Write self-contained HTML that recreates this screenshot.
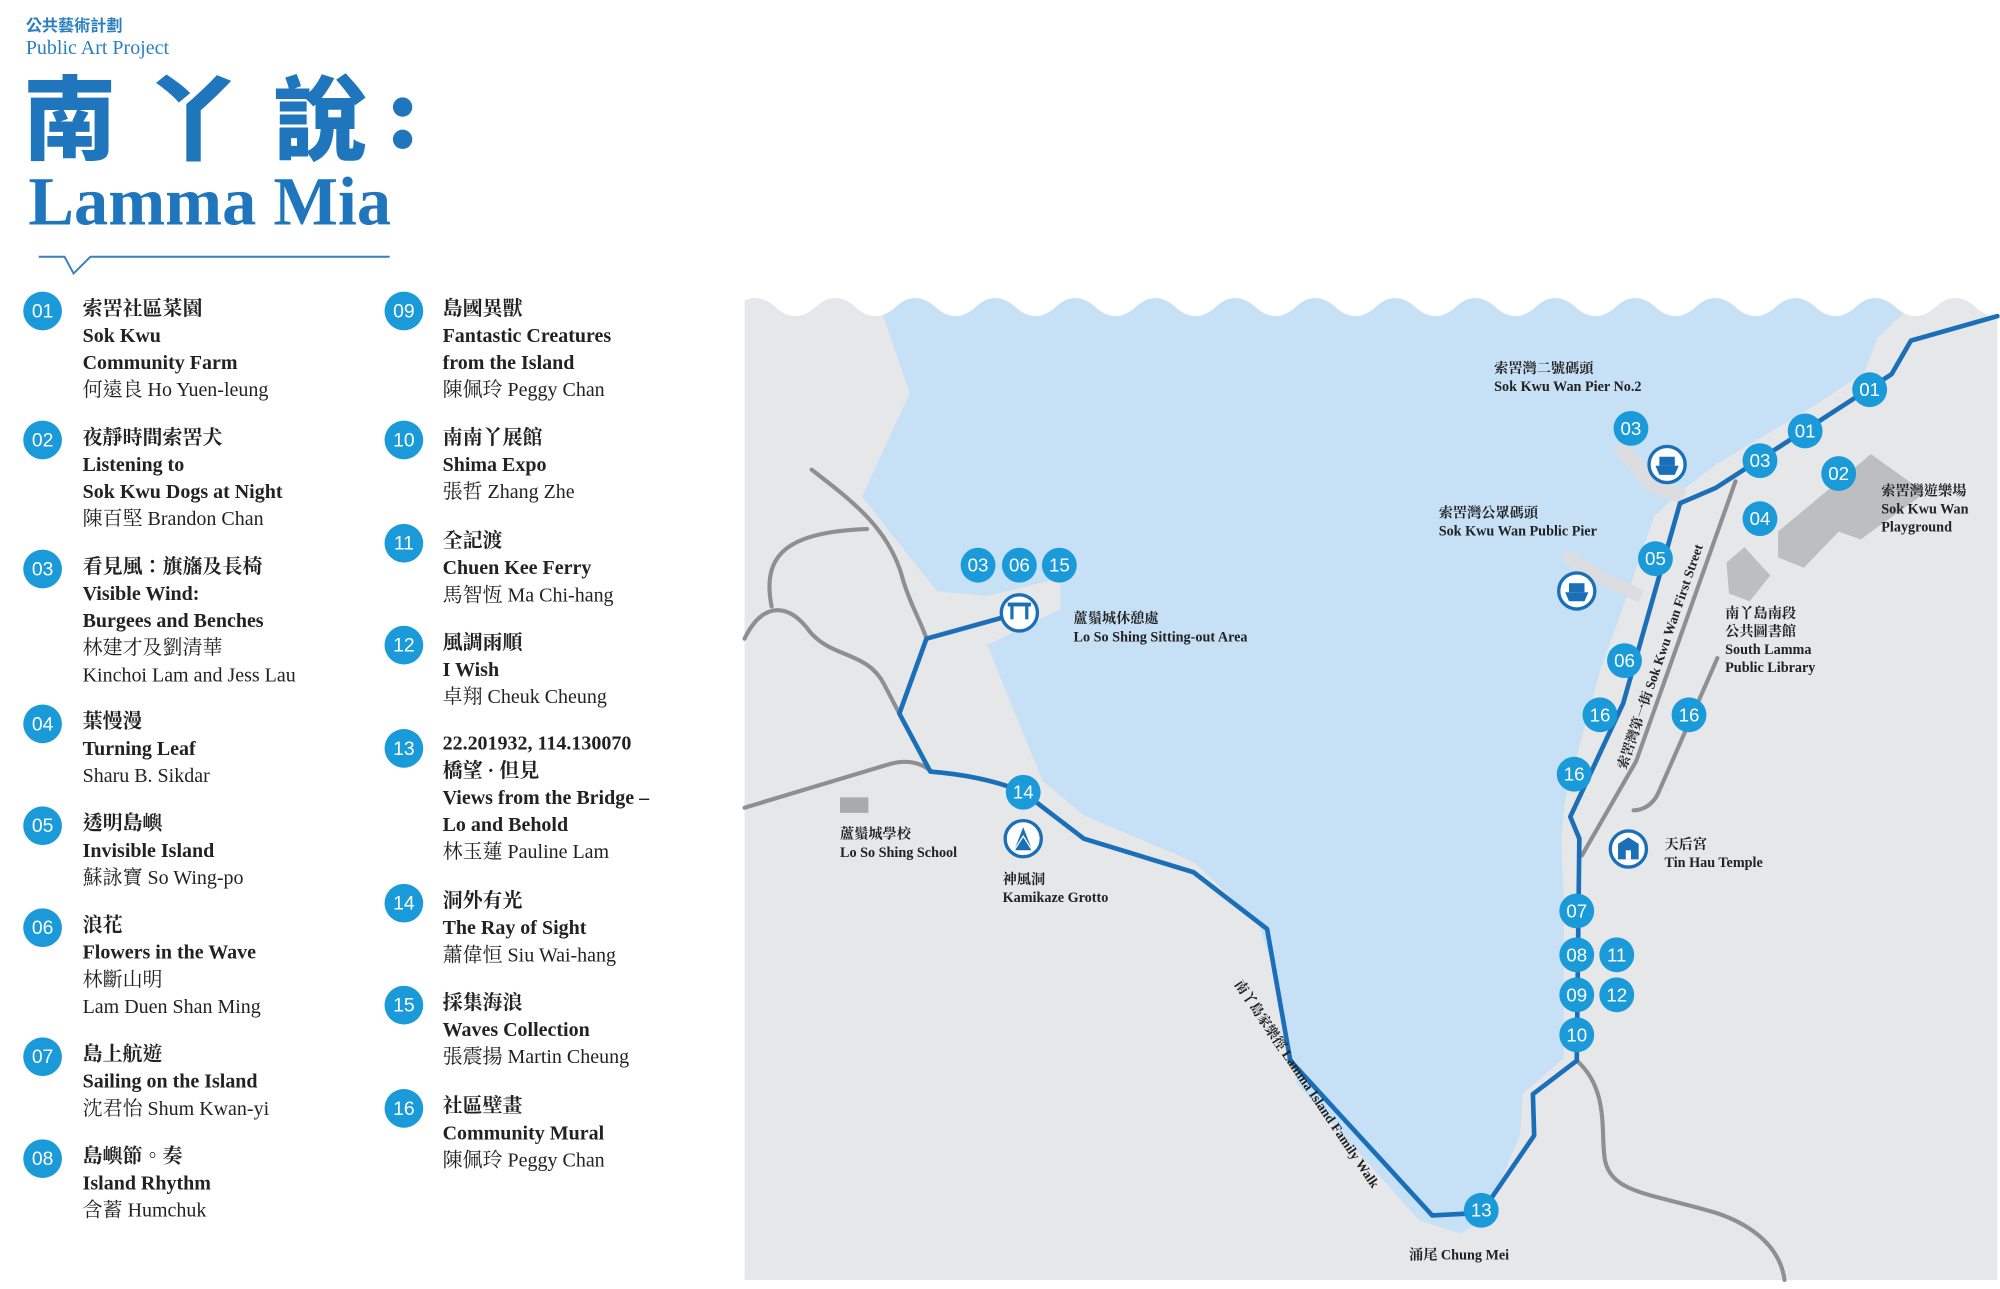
<!DOCTYPE html>
<html><head><meta charset="utf-8"><style>
html,body{margin:0;padding:0;background:#fff;width:2000px;height:1289px;overflow:hidden}
svg{display:block}
.t{font-family:"Liberation Serif","Noto Serif CJK TC","Noto Serif CJK SC",serif;font-size:15.5px;fill:#222}
.b{font-weight:bold}
.n{font-family:"Liberation Sans",sans-serif;font-size:14.5px;fill:#fff;text-anchor:middle}
.m{font-family:"Liberation Serif","Noto Serif CJK TC","Noto Serif CJK SC",serif;font-size:11px;font-weight:bold;fill:#222}
</style></head><body>
<svg width="2000" height="1289" viewBox="0 0 1550 999" xmlns="http://www.w3.org/2000/svg">
<!-- header -->
<text x="20" y="24" style="font-family:'Noto Sans CJK TC','Noto Sans CJK SC',sans-serif;font-size:12.5px;fill:#2a7fc1;font-weight:bold">公共藝術計劃</text>
<text x="20" y="42" style="font-family:'Liberation Serif',serif;font-size:15.5px;fill:#2a7fc1">Public Art Project</text>
<g style="font-family:'Noto Sans CJK TC','Noto Sans CJK SC',sans-serif;font-size:72px;font-weight:900;fill:#1f76bd">
<text x="18" y="118">南</text><text x="114" y="118">丫</text><text x="212" y="118">說</text>
</g>
<circle cx="312" cy="83" r="7.5" fill="#1f76bd"/><circle cx="312" cy="108" r="7.5" fill="#1f76bd"/>
<text x="22" y="174" style="font-family:'Liberation Serif',serif;font-size:53px;font-weight:bold;fill:#1f76bd">Lamma Mia</text>
<path d="M30,199 H50 L57,212 L70,199 H302" fill="none" stroke="#3a7fbf" stroke-width="1.5"/>

<!-- list -->
<g fill="#1a9ad9">
<circle cx="33" cy="241" r="15"/><circle cx="33" cy="341" r="15"/><circle cx="33" cy="441" r="15"/><circle cx="33" cy="561" r="15"/>
<circle cx="33" cy="640" r="15"/><circle cx="33" cy="719" r="15"/><circle cx="33" cy="819" r="15"/><circle cx="33" cy="898" r="15"/>
<circle cx="313" cy="241" r="15"/><circle cx="313" cy="341" r="15"/><circle cx="313" cy="421" r="15"/><circle cx="313" cy="500" r="15"/>
<circle cx="313" cy="580" r="15"/><circle cx="313" cy="700" r="15"/><circle cx="313" cy="779" r="15"/><circle cx="313" cy="859" r="15"/>
</g>
<g class="n" style="font-size:15px">
<text x="33" y="246">01</text><text x="33" y="346">02</text><text x="33" y="446">03</text><text x="33" y="566">04</text>
<text x="33" y="645">05</text><text x="33" y="724">06</text><text x="33" y="824">07</text><text x="33" y="903">08</text>
<text x="313" y="246">09</text><text x="313" y="346">10</text><text x="313" y="426">11</text><text x="313" y="505">12</text>
<text x="313" y="585">13</text><text x="313" y="705">14</text><text x="313" y="784">15</text><text x="313" y="864">16</text>
</g>
<g class="t">
<text x="64" y="244"><tspan class="b">索罟社區菜園</tspan><tspan x="64" dy="21" class="b">Sok Kwu</tspan><tspan x="64" dy="21" class="b">Community Farm</tspan><tspan x="64" dy="21">何遠良 Ho Yuen-leung</tspan></text>
<text x="64" y="344"><tspan class="b">夜靜時間索罟犬</tspan><tspan x="64" dy="21" class="b">Listening to</tspan><tspan x="64" dy="21" class="b">Sok Kwu Dogs at Night</tspan><tspan x="64" dy="21">陳百堅 Brandon Chan</tspan></text>
<text x="64" y="444"><tspan class="b">看見風：旗旛及長椅</tspan><tspan x="64" dy="21" class="b">Visible Wind:</tspan><tspan x="64" dy="21" class="b">Burgees and Benches</tspan><tspan x="64" dy="21">林建才及劉清華</tspan><tspan x="64" dy="21">Kinchoi Lam and Jess Lau</tspan></text>
<text x="64" y="564"><tspan class="b">葉慢漫</tspan><tspan x="64" dy="21" class="b">Turning Leaf</tspan><tspan x="64" dy="21">Sharu B. Sikdar</tspan></text>
<text x="64" y="643"><tspan class="b">透明島嶼</tspan><tspan x="64" dy="21" class="b">Invisible Island</tspan><tspan x="64" dy="21">蘇詠寶 So Wing-po</tspan></text>
<text x="64" y="722"><tspan class="b">浪花</tspan><tspan x="64" dy="21" class="b">Flowers in the Wave</tspan><tspan x="64" dy="21">林斷山明</tspan><tspan x="64" dy="21">Lam Duen Shan Ming</tspan></text>
<text x="64" y="822"><tspan class="b">島上航遊</tspan><tspan x="64" dy="21" class="b">Sailing on the Island</tspan><tspan x="64" dy="21">沈君怡 Shum Kwan-yi</tspan></text>
<text x="64" y="901"><tspan class="b">島嶼節。奏</tspan><tspan x="64" dy="21" class="b">Island Rhythm</tspan><tspan x="64" dy="21">含蓄 Humchuk</tspan></text>

<text x="343" y="244"><tspan class="b">島國異獸</tspan><tspan x="343" dy="21" class="b">Fantastic Creatures</tspan><tspan x="343" dy="21" class="b">from the Island</tspan><tspan x="343" dy="21">陳佩玲 Peggy Chan</tspan></text>
<text x="343" y="344"><tspan class="b">南南丫展館</tspan><tspan x="343" dy="21" class="b">Shima Expo</tspan><tspan x="343" dy="21">張哲 Zhang Zhe</tspan></text>
<text x="343" y="424"><tspan class="b">全記渡</tspan><tspan x="343" dy="21" class="b">Chuen Kee Ferry</tspan><tspan x="343" dy="21">馬智恆 Ma Chi-hang</tspan></text>
<text x="343" y="503"><tspan class="b">風調雨順</tspan><tspan x="343" dy="21" class="b">I Wish</tspan><tspan x="343" dy="21">卓翔 Cheuk Cheung</tspan></text>
<text x="343" y="581"><tspan class="b">22.201932, 114.130070</tspan><tspan x="343" dy="21" class="b">橋望 · 但見</tspan><tspan x="343" dy="21" class="b">Views from the Bridge –</tspan><tspan x="343" dy="21" class="b">Lo and Behold</tspan><tspan x="343" dy="21">林玉蓮 Pauline Lam</tspan></text>
<text x="343" y="703"><tspan class="b">洞外有光</tspan><tspan x="343" dy="21" class="b">The Ray of Sight</tspan><tspan x="343" dy="21">蕭偉恒 Siu Wai-hang</tspan></text>
<text x="343" y="782"><tspan class="b">採集海浪</tspan><tspan x="343" dy="21" class="b">Waves Collection</tspan><tspan x="343" dy="21">張震揚 Martin Cheung</tspan></text>
<text x="343" y="862"><tspan class="b">社區壁畫</tspan><tspan x="343" dy="21" class="b">Community Mural</tspan><tspan x="343" dy="21">陳佩玲 Peggy Chan</tspan></text>
</g>

<!-- map -->
<rect x="577" y="220" width="971" height="772" fill="#e6e7e9"/>
<path d="M676,220 L1482,220 L1478,240 L1455,262 L1445,288 L1410,312 L1330,360 L1300,383 L1282,400 L1258,470 L1240,520 L1225,575 L1213,620 L1210,650 L1212,700 L1212,820 L1180,848 L1178,880 L1150,945 L1132,956 L1100,946 L1005,840 L990,760 L975,715 L925,668 L840,632 L808,605 L765,500 L822,472 L822,448 L765,462 L726,458 L668,385 L705,305 Z" fill="#c6e1f6"/>
<path d="M1255,345 L1280,375 L1305,385" fill="none" stroke="#dcdde0" stroke-width="12"/>
<path d="M1212,430 L1245,450 L1272,462" fill="none" stroke="#dcdde0" stroke-width="10"/>
<!-- white wave top -->
<path d="M570,0 L570,238 Q585.5,224 601,238 T632,238 T663,238 T694,238 T725,238 T756,238 T787,238 T818,238 T849,238 T880,238 T911,238 T942,238 T973,238 T1004,238 T1035,238 T1066,238 T1097,238 T1128,238 T1159,238 T1190,238 T1221,238 T1252,238 T1283,238 T1314,238 T1345,238 T1376,238 T1407,238 T1438,238 T1469,238 T1500,238 T1531,238 T1562,238 L1562,0 Z" fill="#fff"/>
<rect x="1548" y="0" width="10" height="999" fill="#fff"/>
<rect x="570" y="992" width="990" height="10" fill="#fff"/>
<!-- buildings -->
<path d="M1378,412 L1450,352 L1492,382 L1442,418 L1425,412 L1398,440 L1378,432 Z" fill="#bdbec0"/>
<path d="M1338,436 L1352,424 L1372,446 L1356,466 L1340,460 Z" fill="#bdbec0"/>
<rect x="651" y="618" width="22" height="12" fill="#a9aaac"/>
<!-- grey roads -->
<g fill="none" stroke="#8e8f91" stroke-width="3.2" stroke-linecap="round">
<path d="M629,364 C660,388 690,410 700,450 C706,470 714,482 718,495"/>
<path d="M598,470 C590,430 610,412 672,410"/>
<path d="M577,495 C590,468 610,465 628,490 C645,510 672,505 685,530 L697,553"/>
<path d="M577,626 L690,592 C705,588 715,592 722,598"/>
<path d="M1345,373 L1268,590 L1226,663"/>
<path d="M1331,510 L1285,615 C1280,625 1272,628 1266,628"/>
<path d="M1222,822 C1248,845 1240,880 1244,900 C1250,925 1280,925 1330,940 C1360,950 1380,968 1383,992"/>
</g>
<!-- blue paths -->
<g fill="none" stroke="#1b6fb8" stroke-width="3.6" stroke-linejoin="round" stroke-linecap="round">
<path d="M1548,245 L1481,264 L1466,290 L1330,378 L1302,390 L1258,545 L1217,633 L1224,650 L1222,822 L1188,848 L1189,880 L1148,940 L1110,942 L1000,822 L982,720 L925,676 L840,650 L793,614 C770,604 745,600 721,598 L697,553 L718,495 L790,475"/>
</g>
<!-- icon markers -->
<g fill="#fff" stroke="#1b6fb8" stroke-width="2.6">
<circle cx="790" cy="475" r="14"/><circle cx="793" cy="650" r="14"/><circle cx="1292" cy="360" r="14"/><circle cx="1222" cy="458" r="14"/><circle cx="1262" cy="658" r="14"/>
</g>
<g fill="#1b6fb8">
<rect x="781" y="467" width="18" height="3"/><rect x="783" y="469" width="2.5" height="11"/><rect x="794.5" y="469" width="2.5" height="11"/>
<path d="M786,659 L793,641 L800,659 Z"/>
<path d="M1283,361 L1301,361 L1298,368 L1286,368 Z"/><rect x="1286" y="354" width="12" height="7"/>
<path d="M1213,459 L1231,459 L1228,466 L1216,466 Z"/><rect x="1216" y="452" width="12" height="7"/>
<path d="M1254,654 L1262,649 L1270,654 L1270,666 L1254,666 Z"/>
</g>
<rect x="1260" y="659" width="4" height="7" fill="#fff"/>
<path d="M786,659 L793,648 L800,659" fill="none" stroke="#fff" stroke-width="1"/>
<!-- number markers -->
<g fill="#1a9ad9">
<circle cx="758" cy="438" r="13.5"/><circle cx="790" cy="438" r="13.5"/><circle cx="821" cy="438" r="13.5"/><circle cx="793" cy="614" r="13.5"/>
<circle cx="1449" cy="302" r="13.5"/><circle cx="1399" cy="334" r="13.5"/><circle cx="1364" cy="357" r="13.5"/><circle cx="1264" cy="332" r="13.5"/>
<circle cx="1425" cy="367" r="13.5"/><circle cx="1364" cy="402" r="13.5"/><circle cx="1283" cy="433" r="13.5"/><circle cx="1259" cy="512" r="13.5"/>
<circle cx="1240" cy="554" r="13.5"/><circle cx="1309" cy="554" r="13.5"/><circle cx="1220" cy="600" r="13.5"/>
<circle cx="1222" cy="706" r="13.5"/><circle cx="1222" cy="740" r="13.5"/><circle cx="1253" cy="740" r="13.5"/>
<circle cx="1222" cy="771" r="13.5"/><circle cx="1253" cy="771" r="13.5"/><circle cx="1222" cy="802" r="13.5"/><circle cx="1148" cy="938" r="13.5"/>
</g>
<g class="n">
<text x="758" y="443">03</text><text x="790" y="443">06</text><text x="821" y="443">15</text><text x="793" y="619">14</text>
<text x="1449" y="307">01</text><text x="1399" y="339">01</text><text x="1364" y="362">03</text><text x="1264" y="337">03</text>
<text x="1425" y="372">02</text><text x="1364" y="407">04</text><text x="1283" y="438">05</text><text x="1259" y="517">06</text>
<text x="1240" y="559">16</text><text x="1309" y="559">16</text><text x="1220" y="605">16</text>
<text x="1222" y="711">07</text><text x="1222" y="745">08</text><text x="1253" y="745">11</text>
<text x="1222" y="776">09</text><text x="1253" y="776">12</text><text x="1222" y="807">10</text><text x="1148" y="943">13</text>
</g>
<!-- map labels -->
<g class="m">
<text x="1158" y="289">索罟灣二號碼頭</text><text x="1158" y="303">Sok Kwu Wan Pier No.2</text>
<text x="1115" y="401">索罟灣公眾碼頭</text><text x="1115" y="415">Sok Kwu Wan Public Pier</text>
<text x="832" y="483">蘆鬚城休憩處</text><text x="832" y="497">Lo So Shing Sitting-out Area</text>
<text x="1458" y="384">索罟灣遊樂場</text><text x="1458" y="398">Sok Kwu Wan</text><text x="1458" y="412">Playground</text>
<text x="1337" y="479">南丫島南段</text><text x="1337" y="493">公共圖書館</text><text x="1337" y="507">South Lamma</text><text x="1337" y="521">Public Library</text>
<text x="1290" y="658">天后宮</text><text x="1290" y="672">Tin Hau Temple</text>
<text x="651" y="650">蘆鬚城學校</text><text x="651" y="664">Lo So Shing School</text>
<text x="777" y="685">神風洞</text><text x="777" y="699">Kamikaze Grotto</text>
<text x="1092" y="976">涌尾 Chung Mei</text>
<text transform="translate(1290,510) rotate(-71)" text-anchor="middle" style="font-size:10.5px">索罟灣第一街  Sok Kwu Wan First Street</text>
<text transform="translate(1010,842) rotate(56)" text-anchor="middle" style="font-size:10.5px">南丫島家樂徑  Lamma Island Family Walk</text>
</g>
</svg>
</body></html>
